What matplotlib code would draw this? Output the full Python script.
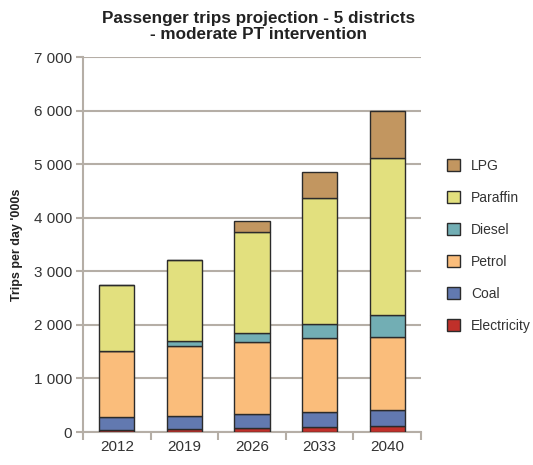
import numpy as np
import matplotlib
matplotlib.use("Agg")
import matplotlib.pyplot as plt
from matplotlib.patches import Patch

plt.rcParams['font.family'] = ['Liberation Sans', 'DejaVu Sans']

years = ["2012", "2019", "2026", "2033", "2040"]
electricity = [37, 56, 75, 93, 118]
coal = [237, 249, 267, 280, 292]
petrol = [1237, 1293, 1343, 1381, 1356]
diesel = [0, 100, 162, 261, 411]
paraffin = [1232, 1511, 1884, 2351, 2935]
lpg = [0, 0, 199, 485, 889]

series = [
    ("Electricity", electricity, "#c0302a"),
    ("Coal", coal, "#6279b0"),
    ("Petrol", petrol, "#fabd7b"),
    ("Diesel", diesel, "#72aeb4"),
    ("Paraffin", paraffin, "#e2e07e"),
    ("LPG", lpg, "#c29660"),
]

fig = plt.figure(figsize=(5.33, 4.65), dpi=100)
ax = fig.add_axes([83 / 533, 1 - 432 / 465, (421 - 83) / 533, (432 - 57) / 465])

x = np.arange(len(years))
bottom = np.zeros(len(years))
for name, vals, col in series:
    vals = np.array(vals, dtype=float)
    ax.bar(x, vals, bottom=bottom, width=0.52, color=col,
           edgecolor="#2b2b2b", linewidth=1.0, zorder=3)
    bottom += vals

grid_col = "#b5aea6"
ax.set_xlim(-0.5, len(years) - 0.5)
ax.set_ylim(0, 7000)
yt = np.arange(0, 7001, 1000)
ax.set_yticks(yt)
ax.set_yticklabels([f"{v:,}".replace(",", " ") for v in yt])
ax.yaxis.grid(True, color=grid_col, linewidth=1.5, zorder=0)
ax.set_axisbelow(True)

ax.set_xticks(x)
ax.set_xticklabels(years)
ax.set_xticks(np.arange(-0.5, len(years)), minor=True)
ax.tick_params(axis="x", which="major", length=0, labelsize=11,
               labelcolor="#333333", pad=6)
ax.tick_params(axis="x", which="minor", length=6, width=1.5, color=grid_col)
ax.tick_params(axis="y", length=5, width=1.5, color=grid_col,
               labelsize=11, labelcolor="#333333", pad=3)

for s in ["top", "right"]:
    ax.spines[s].set_visible(False)
for s in ["left", "bottom"]:
    ax.spines[s].set_color(grid_col)
    ax.spines[s].set_linewidth(1.5)

ax.set_ylabel("Trips per day '000s", fontsize=9, fontweight="bold",
              color="#222222", labelpad=8)
fig.text(259 / 533, 1 - 11 / 465, "Passenger trips projection - 5 districts\n- moderate PT intervention",
         ha="center", va="top", fontsize=12.3, fontweight="bold", color="#222222",
         linespacing=1.1)

handles = [Patch(facecolor=col, edgecolor="#2b2b2b", label=name)
           for name, vals, col in series[::-1]]
fig.legend(handles=handles, loc="upper left", bbox_to_anchor=(434 / 533, 1 - 146 / 465),
           frameon=False, fontsize=10, labelspacing=1.3, handlelength=0.95,
           handleheight=0.95, handletextpad=0.8, labelcolor="#333333")

fig.savefig("out.png", dpi=100)
